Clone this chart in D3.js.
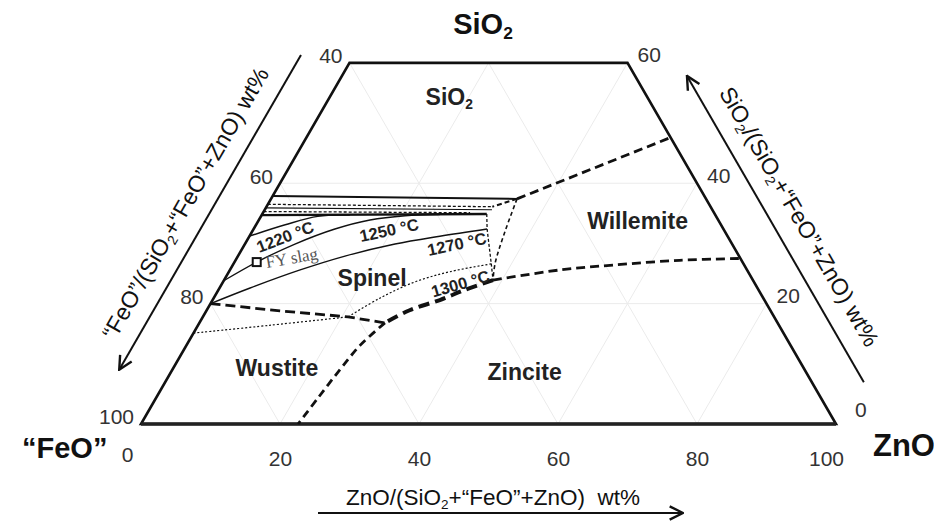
<!DOCTYPE html>
<html>
<head>
<meta charset="utf-8">
<script src="https://cdn.jsdelivr.net/npm/d3@7/dist/d3.min.js"></script>
<style>
  body { margin: 0; background: #fff; }
  svg { display: block; font-family: "Liberation Sans", Arial, sans-serif; }
</style>
</head>
<body>
<script>
  // Compositions are [ZnO, SiO2] in wt%, "FeO" is the remainder
  var bottomTicks = [0, 20, 40, 60, 80, 100];   // ZnO
  var leftTicks = [100, 80, 60, 40];             // "FeO"
  var rightTicks = [0, 20, 40, 60];              // SiO2
  var gridLevels = [20, 40, 60, 80];
  var siO2Max = 60;                              // diagram is cut at 60 % SiO2

  // primary phase boundaries
  var siO2Willemite = [[35.4, 37.4], [52.4, 47.6]];
  var willemiteZincite = [[38.7, 23.9], [47.5, 25.6], [54.7, 26.4], [63.9, 27.2], [72.5, 27.5]];
  var spinelZincite = [[38.7, 23.9], [35.5, 22.3], [32.7, 20.6], [29.2, 18.9], [26.7, 16.8]];
  var wustiteZincite = [[26.7, 16.8], [25.0, 13.1], [24.1, 9.0], [23.3, 4.3], [22.6, 0]];
  var wustiteSpinel = [[0, 20], [10.6, 18.8], [20.9, 17.8], [26.7, 16.8]];
  var spinelWillemite = [[35.4, 37.4], [36.4, 31.9], [37.6, 26.7], [38.7, 23.9]];
  var liquidusShort = [[35.4, 37.4], [32.5, 36.1]];

  // isotherms
  var iso1220 = [[0, 31.2], [4.2, 33.1], [8.2, 34.5], [12.7, 34.7]];
  var iso1250 = [[0, 23.8], [3.2, 26.9], [7.2, 29.9], [11.7, 32.4], [16.0, 33.9], [20.7, 34.6], [25.6, 34.8]];
  var iso1270 = [[0, 20], [4.4, 22.6], [10.1, 25.6], [15.4, 27.9], [21.6, 29.9], [27.4, 31.2], [33.6, 32.4]];
  var iso1300 = [[20.9, 17.8], [23.9, 20.9], [27.6, 23.6], [31.8, 25.3], [37.1, 26.6]];
  var wustiteDotted = [[0, 15.1], [10.3, 16.4], [20.9, 17.8]];

  // near-horizontal lines along the silica saturation
  var topSolid = [[0, 37.9], [35.4, 37.4]];
  var topDotted1 = [[0, 36.5], [32.5, 36.1]];
  var topSolid2 = [[0, 35.9], [32.7, 35.6]];
  var topDotted2 = [[0, 35.3], [29.8, 35.1]];
  var topThick = [[0, 34.7], [32.3, 34.9]];
  var edgeDotted = [[32.3, 34.9], [33.6, 32.4], [37.1, 26.6], [38.7, 23.9]];

  var fySlag = [3.2, 26.9];

  var phaseNames = ["SiO_2", "Willemite", "Zincite", "Wustite", "Spinel"];
  var phaseAt = [[17.2, 54.3], [54.6, 33.7], [50.9, 8.6], [14.9, 9.3], [21.1, 24.3]];
  var tempNames = ["1220 °C", "1250 °C", "1270 °C", "1300 °C"];
  var tempAt = [[5.2, 31.1], [19.6, 32.2], [30.5, 29.9], [34.3, 23.3]];

  // Set the dimensions of the canvas / triangle
  var width = 934, height = 524;
  var x0 = 141, y0 = 424, side = 695;
  var h = side * Math.sqrt(3) / 2;

  var xScale = d3.scaleLinear().domain([0, 100]).range([x0, x0 + side]);
  var yScale = d3.scaleLinear().domain([0, 100]).range([y0, y0 - h]);
  function proj(d) { return [xScale(d[0] + d[1] / 2), yScale(d[1])]; }

  var smooth = d3.line()
    .x(function (d) { return proj(d)[0]; })
    .y(function (d) { return proj(d)[1]; })
    .curve(d3.curveCatmullRom.alpha(0.5));
  var straight = d3.line()
    .x(function (d) { return proj(d)[0]; })
    .y(function (d) { return proj(d)[1]; });

  var svg = d3.select("body")
    .append("svg")
    .attr("width", width)
    .attr("height", height);

  svg.append("defs").append("marker")
    .attr("id", "arrow")
    .attr("viewBox", "0 0 12 12")
    .attr("refX", 11).attr("refY", 6)
    .attr("markerWidth", 16).attr("markerHeight", 16)
    .attr("markerUnits", "userSpaceOnUse")
    .attr("orient", "auto")
    .append("path")
    .attr("d", "M1,1 L11,6 L1,11")
    .attr("fill", "none")
    .attr("stroke", "#111")
    .attr("stroke-width", 1.8);

  // writes "_2" as a subscript 2
  function rich(sel, str, size) {
    str.split("_2").forEach(function (part, i) {
      if (i > 0) {
        sel.append("tspan").attr("font-size", size * 0.6).attr("dy", size * 0.18).text("2");
        sel.append("tspan").attr("dy", -size * 0.18).text(part);
      } else {
        sel.append("tspan").text(part);
      }
    });
  }

  // Grid
  var grid = [];
  gridLevels.forEach(function (g) {
    if (g < siO2Max) grid.push([[0, g], [100 - g, g]]);
    grid.push([[g, 0], [g, Math.min(siO2Max, 100 - g)]]);
    grid.push([[100 - g, 0], [Math.max(0, 100 - g - siO2Max), Math.min(siO2Max, 100 - g)]]);
  });
  svg.append("g").selectAll("path")
    .data(grid)
    .enter().append("path")
    .attr("d", straight)
    .attr("fill", "none")
    .attr("stroke", "#ebebeb")
    .attr("stroke-width", 1);

  // Outline
  svg.append("path")
    .attr("d", straight([[0, 0], [100, 0], [100 - siO2Max, siO2Max], [0, siO2Max]]) + "Z")
    .attr("fill", "none")
    .attr("stroke", "#111")
    .attr("stroke-width", 2.6)
    .attr("stroke-linejoin", "miter");
  svg.append("path")
    .attr("d", straight([[0, 0], [100, 0]]))
    .attr("stroke", "#222")
    .attr("stroke-width", 3.6);

  // Lines of the diagram
  var lines = [
    { d: topSolid, w: 2, dash: null, c: straight },
    { d: topDotted1, w: 1.3, dash: "3,2", c: straight },
    { d: topSolid2, w: 1.2, dash: null, c: straight },
    { d: topDotted2, w: 1.3, dash: "3,2", c: straight },
    { d: topThick, w: 2.4, dash: null, c: straight },
    { d: iso1220, w: 1.4, dash: null, c: smooth },
    { d: iso1250, w: 1.4, dash: null, c: smooth },
    { d: iso1270, w: 1.4, dash: null, c: smooth },
    { d: iso1300, w: 1.2, dash: "2,2", c: smooth },
    { d: wustiteDotted, w: 1.2, dash: "2,2", c: smooth },
    { d: edgeDotted, w: 1.3, dash: "3,2", c: straight },
    { d: liquidusShort, w: 2, dash: "5,3", c: straight },
    { d: spinelWillemite, w: 1.6, dash: "4,3", c: smooth },
    { d: siO2Willemite, w: 2.8, dash: "9,5", c: straight },
    { d: willemiteZincite, w: 2.8, dash: "9,5", c: smooth },
    { d: spinelZincite, w: 4, dash: "11,6", c: smooth },
    { d: wustiteZincite, w: 2.8, dash: "8,5", c: smooth },
    { d: wustiteSpinel, w: 2.8, dash: "10,5", c: straight }
  ];
  svg.append("g").selectAll("path")
    .data(lines)
    .enter().append("path")
    .attr("d", function (d) { return d.c(d.d); })
    .attr("fill", "none")
    .attr("stroke", "#111")
    .attr("stroke-width", function (d) { return d.w; })
    .attr("stroke-dasharray", function (d) { return d.dash; });

  // FY slag point
  svg.append("rect")
    .attr("x", proj(fySlag)[0] - 4).attr("y", proj(fySlag)[1] - 4)
    .attr("width", 8).attr("height", 8)
    .attr("fill", "#fff").attr("stroke", "#111").attr("stroke-width", 2);
  svg.append("text")
    .attr("transform", "translate(" + (proj(fySlag)[0] + 10) + "," + (proj(fySlag)[1] + 6) + ") rotate(-10)")
    .attr("font-family", "'Liberation Serif', 'DejaVu Serif', serif")
    .attr("font-size", 17)
    .attr("fill", "#555")
    .text("FY slag");

  // Temperature labels
  var tempAngle = [-21, -12, -12, -16];
  svg.append("g").selectAll("text")
    .data(tempNames)
    .enter().append("text")
    .attr("transform", function (d, i) {
      var p = proj(tempAt[i]);
      return "translate(" + p[0] + "," + p[1] + ") rotate(" + tempAngle[i] + ")";
    })
    .attr("text-anchor", "middle")
    .attr("dy", "0.35em")
    .attr("font-size", 16.5)
    .attr("font-weight", "bold")
    .attr("fill", "#222")
    .text(function (d) { return d; });

  // Phase fields
  svg.append("g").selectAll("text")
    .data(phaseNames)
    .enter().append("text")
    .attr("x", function (d, i) { return proj(phaseAt[i])[0]; })
    .attr("y", function (d, i) { return proj(phaseAt[i])[1]; })
    .attr("text-anchor", "middle")
    .attr("dy", "0.35em")
    .attr("font-size", 23)
    .attr("font-weight", "bold")
    .attr("fill", "#222")
    .each(function (d) { rich(d3.select(this), d, 23); });

  // Add the bottom axis
  var xAxis = d3.axisBottom(xScale).tickValues(bottomTicks).tickSize(0).tickPadding(27);
  var gx = svg.append("g")
    .attr("transform", "translate(0," + y0 + ")")
    .call(xAxis);
  gx.select(".domain").remove();
  gx.selectAll("text")
    .attr("font-size", 21)
    .attr("font-family", "'Liberation Sans', Arial, sans-serif")
    .attr("fill", "#333")
    .attr("dx", function (d) { return d === 0 ? -14 : d === 100 ? -10 : 0; })
    .attr("y", function (d) { return d === 0 ? 23 : 27; });

  // Left ticks ("FeO") and right ticks (SiO2)
  svg.append("g").selectAll("text")
    .data(leftTicks)
    .enter().append("text")
    .attr("x", function (d) { return proj([0, 100 - d])[0] - 7; })
    .attr("y", function (d) { return proj([0, 100 - d])[1] - 7; })
    .attr("dy", "0.35em")
    .attr("text-anchor", "end")
    .attr("font-size", 21)
    .attr("fill", "#333")
    .text(function (d) { return d; });
  svg.append("g").selectAll("text")
    .data(rightTicks)
    .enter().append("text")
    .attr("x", function (d) { return proj([100 - d, d])[0] + (d === 0 ? 19 : 10); })
    .attr("y", function (d) { return proj([100 - d, d])[1] - (d === 0 ? 14 : 8); })
    .attr("dy", "0.35em")
    .attr("text-anchor", "start")
    .attr("font-size", 21)
    .attr("fill", "#333")
    .text(function (d) { return d; });

  // Corner names
  svg.append("text").attr("x", 483).attr("y", 34)
    .attr("text-anchor", "middle").attr("font-size", 29).attr("font-weight", "bold").attr("fill", "#111")
    .each(function () { rich(d3.select(this), "SiO_2", 29); });
  svg.append("text").attr("x", 22).attr("y", 458)
    .attr("font-size", 29).attr("font-weight", "bold").attr("fill", "#111")
    .text("“FeO”");
  svg.append("text").attr("x", 873).attr("y", 456)
    .attr("font-size", 31).attr("font-weight", "bold").attr("fill", "#111")
    .text("ZnO");

  // Axis titles with arrows
  var nL = [-Math.sqrt(3) / 2, -0.5], nR = [Math.sqrt(3) / 2, -0.5];
  function off(p, n, k) { return [p[0] + n[0] * k, p[1] + n[1] * k]; }

  var aL1 = off(proj([0, 57.5]), nL, 46), aL2 = off(proj([0, 5.2]), nL, 46);
  svg.append("line")
    .attr("x1", aL1[0]).attr("y1", aL1[1]).attr("x2", aL2[0]).attr("y2", aL2[1])
    .attr("stroke", "#111").attr("stroke-width", 2).attr("marker-end", "url(#arrow)");
  var aR1 = off(proj([96.8, 3.2]), nR, 45), aR2 = off(proj([45.9, 54.1]), nR, 45);
  svg.append("line")
    .attr("x1", aR1[0]).attr("y1", aR1[1]).attr("x2", aR2[0]).attr("y2", aR2[1])
    .attr("stroke", "#111").attr("stroke-width", 2).attr("marker-end", "url(#arrow)");
  svg.append("line")
    .attr("x1", 318).attr("y1", 513).attr("x2", 683).attr("y2", 513)
    .attr("stroke", "#111").attr("stroke-width", 2).attr("marker-end", "url(#arrow)");

  var tL = off(proj([0, 30.7]), nL, 72), tR = off(proj([71.5, 28.5]), nR, 72);
  svg.append("text")
    .attr("transform", "translate(" + tL[0] + "," + tL[1] + ") rotate(-60)")
    .attr("text-anchor", "middle").attr("dy", "0.35em")
    .attr("font-size", 23).attr("fill", "#111")
    .style("white-space", "pre")
    .each(function () { rich(d3.select(this), "“FeO”/(SiO_2+“FeO”+ZnO) wt%", 23); });
  svg.append("text")
    .attr("transform", "translate(" + tR[0] + "," + tR[1] + ") rotate(60)")
    .attr("text-anchor", "middle").attr("dy", "0.35em")
    .attr("font-size", 23).attr("fill", "#111")
    .style("white-space", "pre")
    .each(function () { rich(d3.select(this), "SiO_2/(SiO_2+“FeO”+ZnO) wt%", 23); });
  svg.append("text")
    .attr("x", 493).attr("y", 505)
    .attr("text-anchor", "middle")
    .attr("font-size", 22.5).attr("fill", "#111")
    .style("white-space", "pre")
    .each(function () { rich(d3.select(this), "ZnO/(SiO_2+“FeO”+ZnO)  wt%", 22.5); });
</script>
</body>
</html>
